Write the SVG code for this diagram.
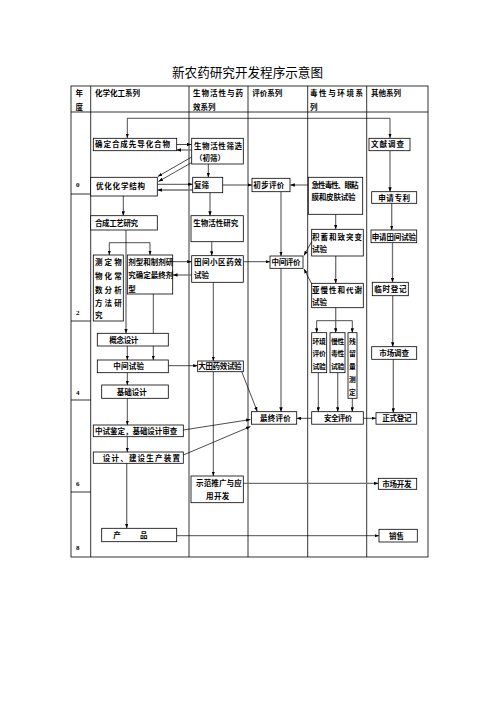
<svg xmlns="http://www.w3.org/2000/svg" width="496" height="702" viewBox="0 0 496 702">
<style>
.t{font-family:"Noto Sans CJK SC","Noto Sans",sans-serif;font-size:7.5px;font-weight:bold;fill:#000}
.s{font-size:6.8px}
.y{font-family:"Liberation Serif",serif;font-size:7px;font-weight:bold;fill:#000}
.b{fill:#fff;stroke:#000;stroke-width:0.8}
.grid{fill:none;stroke:#000;stroke-width:0.8}
.k{fill:none;stroke:#000;stroke-width:0.7}
.g{fill:none;stroke:#707070;stroke-width:1.3}
.m{marker-end:url(#a)}
</style>
<defs>
<marker id="a" viewBox="0 0 8 6" refX="8" refY="3" markerWidth="4.5" markerHeight="3.4" markerUnits="userSpaceOnUse" orient="auto"><path d="M0,0L8,3L0,6z" fill="#000"/></marker>
</defs>
<rect width="496" height="702" fill="#fff"/>
<text x="172" y="77" class="t" style="font-size:12.6px;font-weight:normal" textLength="151" lengthAdjust="spacingAndGlyphs">新农药研究开发程序示意图</text>
<g id="table">
<rect x="71" y="86" width="357" height="471" class="grid" stroke-width="1"/>
<path class="grid" d="M71,112H428M90.7,86V557M189,86V557M248,86V557M307.7,86V557M366.7,86V557M71,194H90.7M71,321H90.7M71,400H90.7M71,492H90.7"/>
<text class="t" x="75.5" y="96.2">年</text><text class="t" x="75.5" y="109.8">度</text>
<text class="t" x="95" y="96.2" textLength="45">化学化工系列</text>
<text class="t" x="193" y="96.2" textLength="50">生物活性与药</text><text class="t" x="193" y="109.8">效系列</text>
<text class="t" x="252.3" y="96.2">评价系列</text>
<text class="t" x="310" y="96.2" textLength="53">毒性与环境系</text><text class="t" x="310" y="109.8">列</text>
<text class="t" x="371" y="96.2">其他系列</text>
<text class="y" x="76" y="186.5">0</text><text class="y" x="76" y="314.5">2</text><text class="y" x="76" y="394.5">4</text><text class="y" x="76" y="485.5">6</text><text class="y" x="76" y="549.5">8</text>
</g>
<g id="connectors">
<path class="k m" d="M127.3,118.3H390V138"/><path class="k m" d="M127.3,118.3V138"/>
<path class="k m" d="M174,144.5H191.5"/>
<path class="g m" d="M191.5,150H176.6"/>
<path class="k m" d="M191.7,157L157.8,176.5"/>
<path class="k m" d="M191.7,162.5L158.5,181.5"/>
<path class="k m" d="M208.3,164V177.3"/>
<path class="k m" d="M157.3,184.3H192.7"/>
<path class="g m" d="M192.7,190H157.5"/>
<path class="g m" d="M222.7,185H252"/>
<path class="k m" d="M308.3,185H290.3"/>
<path class="g m" d="M390,150.7V191.7"/>
<path class="k m" d="M123.3,196V215.7"/>
<path class="g m" d="M210,192.7V215.7"/>
<path class="g m" d="M281,191.7V256"/>
<path class="k m" d="M335.7,214.3V229.3"/>
<path class="g m" d="M391.7,203.3V230"/>
<path class="g m" d="M126,230V333.3"/>
<path class="k m" d="M109.3,242.7H150V255"/><path class="k m" d="M109.3,242.7V255"/>
<path class="g m" d="M211.7,241.7V255.7"/>
<path class="k m" d="M172.7,261.7H191.7"/>
<path class="g m" d="M191.7,275H173"/>
<path class="k m" d="M243.3,261.7H270"/>
<path class="k m" d="M312,241L304,255.5"/>
<path class="k m" d="M312,284.5L304,269"/>
<path class="g m" d="M335.7,256V283.3"/>
<path class="g m" d="M392.5,242.7V282.3"/>
<path class="k" d="M153.3,294V333.3"/>
<path class="k m" d="M213.3,282.3V361"/>
<path class="k m" d="M127.3,346V360"/><path class="k m" d="M153.3,346V360"/>
<path class="k m" d="M168.3,365.7H197.7"/>
<path class="k m" d="M127.3,372.7V385"/>
<path class="g" d="M335.7,307.7V320.7"/>
<path class="k" d="M316.7,320.7H352.3"/>
<path class="k m" d="M316.7,320.7V332.7"/><path class="g m" d="M335.7,320.7V332.7"/><path class="k m" d="M352.3,320.7V332.7"/>
<path class="g m" d="M392.7,295.7V346.7"/>
<path class="k m" d="M241.7,371.7L257.3,411.5"/>
<path class="g m" d="M281,268.3V411.7"/>
<path class="k m" d="M318.3,372.7V411.7"/><path class="g m" d="M337.7,372.7V411.7"/><path class="k m" d="M352.3,398.3V411.7"/>
<path class="g m" d="M393.3,359.3V412.7"/>
<path class="k m" d="M127.3,398.3V425"/>
<path class="k m" d="M311.7,418.3H296.7"/>
<path class="k m" d="M363.3,418.3H376"/>
<path class="k m" d="M183.3,430L250.5,419.5"/>
<path class="k m" d="M183.3,455L250.5,426.5"/>
<path class="k m" d="M127.3,436.7V452"/>
<path class="k m" d="M213.3,371.7V476"/>
<path class="g m" d="M126.7,463.3V528.3"/>
<path class="g m" d="M243.3,483.3H378.3"/>
<path class="k m" d="M176.7,535.7H379"/>
</g>
<g id="n-queding"><rect class="b" x="93.3" y="138.3" width="83.4" height="12.4"/><text class="t" x="95" y="147.3" textLength="75">确定合成先导化合物</text></g>
<g id="n-chushai"><rect class="b" x="191.7" y="138.3" width="51.6" height="25.7"/><text class="t" x="194" y="148.8" textLength="48">生物活性筛选</text><text class="t" x="195" y="161.3">（初筛）</text></g>
<g id="n-wenxian"><rect class="b" x="369" y="138.3" width="41" height="12.4"/><text class="t" x="371" y="147.3" textLength="33">文献调查</text></g>
<g id="n-youhua"><rect class="b" x="90.7" y="177.3" width="66.6" height="18.7"/><text class="t" x="96" y="188.8" textLength="49">优化化学结构</text></g>
<g id="n-fushai"><rect class="b" x="192.7" y="177.3" width="30" height="15.4"/><text class="t" x="194" y="187.8">复筛</text></g>
<g id="n-chubu"><rect class="b" x="252" y="178.3" width="38" height="13.4"/><text class="t" x="253.3" y="187.8" textLength="31">初步评价</text></g>
<g id="n-jixing"><rect class="b" x="308.3" y="177.3" width="54.4" height="37" stroke-width="1.4"/><text class="t" x="311.5" y="187.8" textLength="47">急性毒性、眼粘</text><text class="t" x="311.5" y="199.5" textLength="44">膜和皮肤试验</text></g>
<g id="n-zhuanli"><rect class="b" x="371.7" y="191.7" width="45" height="11.6"/><text class="t" x="378.3" y="200.5" textLength="31.7">申请专利</text></g>
<g id="n-hecheng"><rect class="b" x="90.7" y="215.7" width="66.6" height="14.3"/><text class="t" x="95" y="226.1" textLength="43">合成工艺研究</text></g>
<g id="n-shengwu"><rect class="b" x="191" y="215.7" width="52.3" height="26"/><text class="t" x="193.3" y="226.1" textLength="45">生物活性研究</text></g>
<g id="n-jixu"><rect class="b" x="311.7" y="229.3" width="51.6" height="26.7"/><text class="t" x="311.9" y="239.5" textLength="50">积蓄和致突变</text><text class="t" x="311.9" y="252">试验</text></g>
<g id="n-tianjian-shenqing"><rect class="b" x="371" y="230" width="45.7" height="12.7"/><text class="t" x="371.7" y="239.5" textLength="44.3">申请田间试验</text></g>
<g id="n-ceding"><rect class="b" x="93.3" y="255" width="30" height="66"/><text class="t" x="95" y="264.5" textLength="26.7">测定物</text><text class="t" x="95" y="278.8" textLength="26.7">物化常</text><text class="t" x="95" y="292.8" textLength="26.7">数分析</text><text class="t" x="95" y="306.1" textLength="26.7">方法研</text><text class="t" x="95" y="318.1">究</text></g>
<g id="n-jixing2"><rect class="b" x="127.3" y="255" width="45.4" height="39"/><text class="t" x="128.3" y="264.5" textLength="45">剂型和制剂研</text><text class="t" x="128.3" y="277.8" textLength="45">究确定最终剂</text><text class="t" x="128.3" y="291.8">型</text></g>
<g id="n-tianjian"><rect class="b" x="191.7" y="255.7" width="51.6" height="26.6"/><text class="t" x="194" y="264.5" textLength="47.7">田间小区药效</text><text class="t" x="194" y="277.8">试验</text></g>
<g id="n-zhongjianpj"><rect class="b" x="270" y="256" width="33" height="12.3"/><text class="t" x="271.5" y="265.1" textLength="29">中间评价</text></g>
<g id="n-yaman"><rect class="b" x="311.7" y="283.3" width="51.6" height="24.4"/><text class="t" x="311.9" y="292.8" textLength="50">亚慢性和代谢</text><text class="t" x="311.9" y="305.1">试验</text></g>
<g id="n-linshi"><rect class="b" x="372.3" y="282.3" width="36" height="13.4"/><text class="t" x="374.3" y="291.8" textLength="32.3">临时登记</text></g>
<g id="n-gainian"><rect class="b" x="97.3" y="333.3" width="71" height="12.7"/><text class="t" x="109.3" y="342.5" textLength="29">概念设计</text></g>
<g id="n-huanjing"><rect class="b" x="311.7" y="332.7" width="15" height="40"/><text class="t s" x="312.6" y="343.5" textLength="13.3">环境</text><text class="t s" x="312.6" y="356.1" textLength="13.3">评价</text><text class="t s" x="312.6" y="368.8" textLength="13.3">试验</text></g>
<g id="n-manxing"><rect class="b" x="330" y="332.7" width="15" height="40"/><text class="t s" x="331" y="343.5" textLength="13.3">慢性</text><text class="t s" x="331" y="356.1" textLength="13.3">毒性</text><text class="t s" x="331" y="368.8" textLength="13.3">试验</text></g>
<g id="n-canliu"><rect class="b" x="348" y="332.7" width="9" height="65.6"/><text class="t s" x="349.1" y="343.5">残</text><text class="t s" x="349.1" y="356.1">留</text><text class="t s" x="349.1" y="368.8">量</text><text class="t s" x="349.1" y="382.1">测</text><text class="t s" x="349.1" y="394.5">定</text></g>
<g id="n-shichangdc"><rect class="b" x="371.7" y="346.7" width="45" height="12.6"/><text class="t" x="379.3" y="355.8" textLength="29.7">市场调查</text></g>
<g id="n-zhongjiansy"><rect class="b" x="97.3" y="360" width="71" height="12.7"/><text class="t" x="113.3" y="369.1" textLength="30.7">中间试验</text></g>
<g id="n-datian"><rect class="b" x="197.7" y="361" width="45.6" height="10.7"/><text class="t" x="198.3" y="369.1" textLength="43.3">大田药效试验</text></g>
<g id="n-jichu"><rect class="b" x="101.7" y="385" width="66.6" height="13.3"/><text class="t" x="116.7" y="394.5" textLength="30">基础设计</text></g>
<g id="n-zuizhong"><rect class="b" x="251.5" y="411.7" width="45.2" height="12.5"/><text class="t" x="260" y="420.8" textLength="30.7">最终评价</text></g>
<g id="n-anquan"><rect class="b" x="311.7" y="411.7" width="51.6" height="12.5"/><text class="t" x="324" y="420.8" textLength="28.3">安全评价</text></g>
<g id="n-zhengshi"><rect class="b" x="376" y="412.7" width="40.7" height="11.5"/><text class="t" x="382.3" y="421.3" textLength="29.3">正式登记</text></g>
<g id="n-zhongshi"><rect class="b" x="93.3" y="425" width="90" height="11.7"/><text class="t" x="95" y="433.6" textLength="82.3">中试鉴定，基础设计审查</text></g>
<g id="n-sheji"><rect class="b" x="93.3" y="452" width="90" height="11.3"/><text class="t" x="102.7" y="460.5" textLength="77.3">设计、建设生产装置</text></g>
<g id="n-shifan"><rect class="b" x="191" y="476" width="52.3" height="26.7"/><text class="t" x="196" y="486.1" textLength="45.7">示范推广与应</text><text class="t" x="206" y="498.8" textLength="23.3">用开发</text></g>
<g id="n-shichangkf"><rect class="b" x="378.3" y="478.3" width="38.4" height="11"/><text class="t" x="382.3" y="486.6" textLength="29.3">市场开发</text></g>
<g id="n-chanpin"><rect class="b" x="101.7" y="528.3" width="75" height="13.4"/><text class="t" x="113.3" y="538.3">产</text><text class="t" x="140" y="538.3">品</text></g>
<g id="n-xiaoshou"><rect class="b" x="379" y="529.3" width="38.3" height="12.7"/><text class="t" x="389" y="538.5">销售</text></g>
</svg>
